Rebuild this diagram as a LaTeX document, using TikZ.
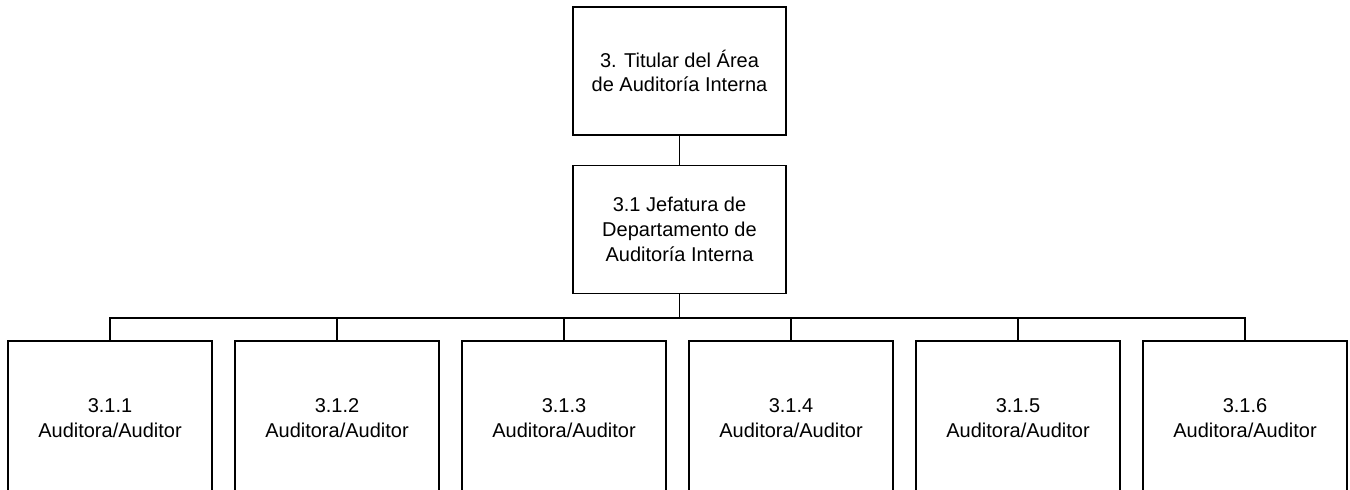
\documentclass[tikz,border=0pt]{standalone}
\usepackage{fontspec}
\setmainfont{Liberation Sans}
\usetikzlibrary{positioning}
\newcommand\boxfont{\fontsize{10}{12.4}\selectfont}

\begin{document}
\begin{tikzpicture}[x=0.5pt, y=-0.5pt,
    box/.style={draw, line width=0.7pt, align=center, font=\boxfont, inner sep=0pt},
    head/.style={box, minimum width=106.5pt, minimum height=64pt},
    aud/.style={box, minimum width=102pt, minimum height=77pt},
    link/.style={line width=0.9pt}]
      \useasboundingbox (0,0) rectangle (1350,489);
      \clip (0,0) rectangle (1350,489);
      \draw node[head] (t0) at (679.5,71) {3. Titular del Área\\de Auditoría Interna};
      \draw node[head, below=14.5pt of t0] (t1) {3.1 Jefatura de\\Departamento de\\Auditoría Interna};

      \draw node[aud] (a1) at (110,418) {3.1.1\\Auditora/Auditor};
      \foreach \x  [evaluate = \x as \xp using int(\x-1)] in {2, ..., 6}
      \draw node[aud, right=10.8pt of a\xp](a\x) {3.1.\x\\Auditora/Auditor};

      \draw[link] (t0) -- (t1);
      \draw[link] (t1.south) -- ++(0,24) coordinate (bus);
      \foreach \x in {1, ..., 6}
      \draw[link] (a\x.north) |- (bus);
    \end{tikzpicture}
\end{document}
